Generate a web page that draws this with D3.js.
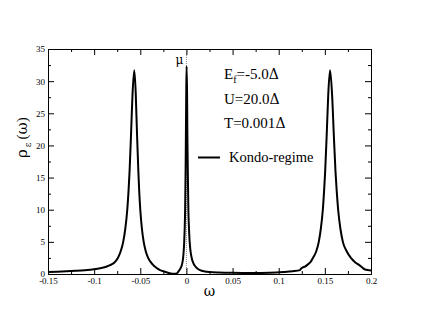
<!DOCTYPE html>
<html>
<head>
<meta charset="utf-8">
<script src="https://cdn.jsdelivr.net/npm/d3@7"></script>
<style>
	body { margin: 0; background: #fff; }
	svg { display: block; }
	text { fill: #000; }
</style>
</head>
<body>
<div id="graphe"></div>
<script>
"use strict";

// données : fréquence et densité spectrale
var omega = [
	-0.15, -0.14, -0.13, -0.12, -0.11, -0.10, -0.09, -0.085, -0.081, -0.078,
	-0.0743, -0.0713, -0.0685, -0.0663, -0.0641, -0.0627, -0.0616, -0.05995, -0.0584, -0.0565,
	-0.0549, -0.0536, -0.0521, -0.0512, -0.0500, -0.0482, -0.0463, -0.0440, -0.0415, -0.0367,
	-0.0330, -0.0286, -0.0232, -0.019, -0.0156, -0.0113, -0.0095, -0.0082, -0.0067, -0.0054,
	-0.0043, -0.0036, -0.0030, -0.0024, -0.0019, -0.0014, -0.0009, -0.00055, -0.0002, 0.0002,
	0.0007, 0.0010, 0.0015, 0.0021, 0.0028, 0.0035, 0.0045, 0.0057, 0.0075, 0.0095,
	0.0115, 0.0148, 0.02, 0.025, 0.035, 0.05, 0.07, 0.09, 0.105, 0.115,
	0.123, 0.1246, 0.1289, 0.1317, 0.1341, 0.1371, 0.1406, 0.1434, 0.1456, 0.1478,
	0.1492, 0.15035, 0.1521, 0.1537, 0.1556, 0.1578, 0.1596, 0.1615, 0.1628, 0.1644,
	0.1669, 0.1695, 0.1738, 0.1782, 0.1830, 0.1880, 0.1905, 0.1935, 0.2
];
var rho = [
	0.3, 0.35, 0.42, 0.5, 0.6, 0.75, 1.0, 1.25, 1.5, 1.8,
	2.5, 3.5, 5, 7, 10, 13, 16, 22, 28, 31.7,
	28, 22, 16, 13, 10, 7, 5, 3.5, 2.5, 1.5,
	1.0, 0.6, 0.35, 0.15, 0.05, 0.04, 0.2, 0.5, 0.8, 1.2,
	1.8, 2.5, 3.5, 5, 7, 10, 16, 22, 28, 32.3,
	28, 22, 16, 10, 7, 5, 3.5, 2.5, 1.7, 1.2,
	0.9, 0.6, 0.4, 0.3, 0.22, 0.18, 0.17, 0.2, 0.3, 0.42,
	0.6, 0.9, 1.2, 1.5, 1.8, 2.5, 3.5, 5, 7, 10,
	13, 16, 22, 28, 31.7, 28, 22, 16, 13, 10,
	7, 5, 3.5, 2.5, 1.8, 1.3, 1.0, 0.7, 0.55
];

// graduations
var ticksX = [-0.15, -0.1, -0.05, 0, 0.05, 0.1, 0.15, 0.2];
var mineursX = [-0.125, -0.075, -0.025, 0.025, 0.075, 0.125, 0.175];
var ticksY = [0, 5, 10, 15, 20, 25, 30, 35];
var mineursY = [2.5, 7.5, 12.5, 17.5, 22.5, 27.5, 32.5];

// textes : [lettre, indice, suite] ; le Δ est posé à part (police grecque)
var parametres = [["E", "f", "=-5.0"], ["U=20.0"], ["T=0.001"]];
var legende = "Kondo-regime";

var latin = "Liberation Serif, serif",
	grec = "DejaVu Serif, serif"; // Liberation Serif n'a pas ici les glyphes grecs

var dim = { largeur: 430, hauteur: 332, top: 49, left: 48, width: 323, height: 225 };

var x = d3.scaleLinear().domain([-0.15, 0.2]).range([0, dim.width]),
	y = d3.scaleLinear().domain([0, 35]).range([dim.height, 0]);

var svg = d3.select("#graphe").append("svg")
	.attr("width", dim.largeur)
	.attr("height", dim.hauteur)
	.attr("font-family", latin);

var g = svg.append("g")
	.attr("transform", "translate(" + dim.left + "," + dim.top + ")");

// ligne pointillée en zéro
g.append("line")
	.attr("x1", x(0)).attr("x2", x(0))
	.attr("y1", 0).attr("y2", dim.height)
	.attr("stroke", "#888")
	.attr("stroke-width", 1)
	.attr("stroke-dasharray", "1,1");

// les axes : graduations rentrantes, sur les quatre côtés
function graduer (axe, valeurs, taille, format, marge) {
	return axe.tickValues(valeurs).tickSizeInner(-taille).tickSizeOuter(0)
		.tickPadding(marge || 3).tickFormat(format);
}
var rien = () => "";

g.append("g").attr("transform", "translate(0," + dim.height + ")")
	.call(graduer(d3.axisBottom(x), ticksX, 6, d => String(d), 4));
g.append("g").attr("transform", "translate(0," + dim.height + ")")
	.call(graduer(d3.axisBottom(x), mineursX, 3, rien));
g.append("g").call(graduer(d3.axisTop(x), ticksX, 6, rien));
g.append("g").call(graduer(d3.axisTop(x), mineursX, 3, rien));
g.append("g").call(graduer(d3.axisLeft(y), ticksY, 6, d => String(d)));
g.append("g").call(graduer(d3.axisLeft(y), mineursY, 3, rien));
g.append("g").attr("transform", "translate(" + dim.width + ",0)")
	.call(graduer(d3.axisRight(y), ticksY, 6, rien));
g.append("g").attr("transform", "translate(" + dim.width + ",0)")
	.call(graduer(d3.axisRight(y), mineursY, 3, rien));

g.selectAll(".tick text")
	.attr("font-size", 9)
	.attr("font-family", latin);
g.selectAll(".domain, .tick line").attr("stroke", "#000");

// la courbe
var trace = d3.line()
	.x((d, i) => x(omega[i]))
	.y(d => y(d))
	.curve(d3.curveMonotoneX);

g.append("path")
	.datum(rho)
	.attr("d", trace)
	.attr("fill", "none")
	.attr("stroke", "#000")
	.attr("stroke-width", 2)
	.attr("stroke-linejoin", "round");

// titres d'axes
svg.append("text")
	.attr("x", dim.left + dim.width / 2)
	.attr("y", 296)
	.attr("text-anchor", "middle")
	.attr("font-family", grec)
	.attr("font-size", 14)
	.text("ω");

var titreY = svg.append("text")
	.attr("transform", "translate(27,158) rotate(-90)")
	.attr("font-size", 15);
titreY.append("tspan").attr("font-family", grec).text("ρ");
titreY.append("tspan").attr("font-family", grec).attr("font-size", 9).attr("dy", 4).attr("dx", 2).text("ε");
titreY.append("tspan").attr("dy", -4).attr("dx", 3).text("(");
titreY.append("tspan").attr("font-family", grec).text("ω");
titreY.append("tspan").text(")");

// μ
g.append("text")
	.attr("x", x(0) - 11)
	.attr("y", 64 - dim.top)
	.attr("font-family", grec)
	.attr("font-size", 12)
	.text("μ");

// paramètres
parametres.forEach(function (p, i) {
	var t = svg.append("text")
		.attr("x", 224)
		.attr("y", 79 + i * 24.5)
		.attr("font-size", 15);
	t.append("tspan").text(p[0]);
	if (p.length > 1) {
		t.append("tspan").attr("font-size", 10).attr("dy", 4).text(p[1]);
		t.append("tspan").attr("dy", -4).text(p[2]);
	}
	t.append("tspan").attr("font-family", grec).attr("font-size", 14).text("Δ");
});

// légende
svg.append("line")
	.attr("x1", 198).attr("x2", 220)
	.attr("y1", 157.5).attr("y2", 157.5)
	.attr("stroke", "#000")
	.attr("stroke-width", 2);
svg.append("text")
	.attr("x", 229)
	.attr("y", 162)
	.attr("font-size", 14.5)
	.text(legende);
</script>
</body>
</html>
